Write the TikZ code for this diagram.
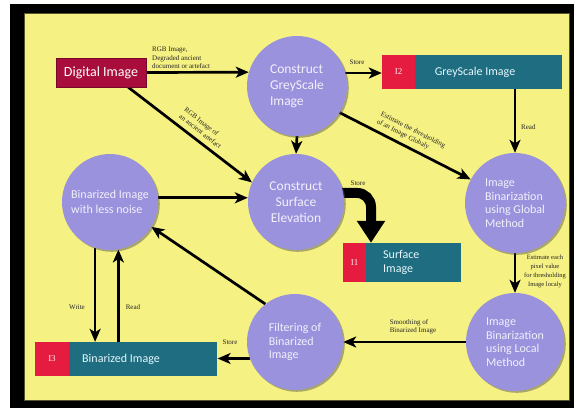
\documentclass[tikz,border=0pt]{standalone}
\usepackage{fontspec}
\setmainfont{Liberation Serif}
\newfontfamily\cfont{Carlito}
\usetikzlibrary{arrows.meta,shadows,calc}
\pgfdeclarelayer{back}
\pgfdeclarelayer{arrowlayer}
\pgfsetlayers{back,arrowlayer,main}
\definecolor{bgyellow}{HTML}{F5F182}
\definecolor{circfill}{HTML}{9A92DC}
\definecolor{darkred}{HTML}{A80D3C}
\definecolor{tagred}{HTML}{E51C40}
\definecolor{tealc}{HTML}{1F6D80}
\definecolor{circtext}{HTML}{F2F0FC}
\begin{document}
\begin{tikzpicture}[x=1pt,y=-1pt,
  proc/.style={circle, fill=circfill, inner sep=0pt, text=circtext, align=left,
    font=\cfont\fontsize{12}{13.5}\selectfont,
    drop shadow={shadow xshift=1.8pt, shadow yshift=-1.8pt, fill=black!70, opacity=0.45}},
  bigproc/.style={proc, font=\cfont\fontsize{13.5}{16}\selectfont},
  tagbox/.style={rectangle, fill=tagred, inner sep=0pt, minimum height=34pt, text=red!8, font=\fontsize{9}{10}\selectfont},
  tealbox/.style={rectangle, fill=tealc, inner sep=0pt, minimum height=34pt},
  boxtext/.style={text=white!90!cyan, font=\cfont\fontsize{12}{14}\selectfont, align=left, inner sep=0pt},
  lbl/.style={font=\fontsize{7}{8.5}\selectfont, text=black!85, inner sep=1pt},
  arr/.style={line width=2.7pt, -{Stealth[length=13pt,width=11pt,inset=3.5pt]}},
]
\useasboundingbox (0,0) rectangle (574,408);
\begin{pgfonlayer}{back}
  \fill[white] (0,0) rectangle (574,408);
  \fill[black] (10,4) rectangle (574,408);
  \filldraw[fill=bgyellow, draw=olive!50!black, line width=0.5pt] (24,13) rectangle (569,400);
\end{pgfonlayer}

% boxes
\node[rectangle, fill=darkred, draw=darkred!70!black, line width=0.6pt, minimum width=90pt, minimum height=29pt, inner sep=0pt, text=white, font=\cfont\fontsize{14}{16}\selectfont] (di) at (101,72.5) {Digital Image};

\node[tagbox, minimum width=33pt] (i2tag) at (398.5,72) {I2};
\node[tealbox, minimum width=147pt, anchor=west] (i2box) at (i2tag.east) {};
\node[boxtext] (i2txt) at (475,72) {GreyScale Image};

\node[tagbox, minimum width=23pt, minimum height=39pt] (i1tag) at (354.5,262.5) {I1};
\node[tealbox, minimum width=95pt, minimum height=39pt, anchor=west] (i1box) at (i1tag.east) {};
\node[boxtext, anchor=west] (i1txt) at (383,262.5) {Surface\\Image};

\node[tagbox, minimum width=34pt] (i3tag) at (52,359) {I3};
\node[tealbox, minimum width=148pt, anchor=west] (i3box) at (i3tag.east) {};
\node[boxtext, anchor=west] (i3txt) at (82,359) {Binarized Image};

% circles
\node[bigproc, minimum size=100pt] (gs) at (297,86) {Construct\\GreyScale\\Image};
\node[bigproc, minimum size=96pt, align=center] (se) at (296,202) {Construct\\Surface\\Elevation};
\node[proc, minimum size=96pt, font=\cfont\fontsize{12}{15}\selectfont] (bin) at (110,202) {Binarized Image\\with less noise};
\node[proc, minimum size=100pt] (glob) at (515,203) {Image\\Binarization\\using Global\\Method};
\node[proc, minimum size=98pt] (loc) at (515,342) {Image\\Binarization\\using Local\\Method};
\node[proc, minimum size=96pt] (filt) at (295,342) {Filtering of\\Binarized\\Image};

% connectors
\begin{pgfonlayer}{arrowlayer}
  \draw[arr] (di.east) -- (gs.164);
  \draw[arr] (gs.15) -- (gs.15 -| i2tag.west);
  \draw[arr] (glob.north |- i2box.south) -- (glob.north);
  \coordinate (dstart) at ($(di.south east)+(-18,0)$);
  \draw[arr] (dstart) -- (se.156);
  \draw[arr] (gs.south) -- (se.north);
  \draw[arr] (gs.-32) -- (glob.152);
  \draw[arr] (bin.5) -- (bin.5 -| se.west);
  \coordinate (sbend) at (371,193);
  \draw[line width=10pt, rounded corners=14pt, -{Triangle[length=22pt,width=27pt]}] ($(se.11)+(-4,0)$) -- (sbend) -- (sbend |- i1box.north);
  \draw[arr] (glob.south) -- (loc.north);
  \draw[arr] (loc.west) -- (filt.east);
  \draw[arr] (filt.-160.5) -- (filt.-160.5 -| i3box.east);
  \draw[arr] (filt.128.7) -- (bin.-31);
  \draw[arr] (bin.-108) -- (bin.-108 |- i3box.north);
  \draw[arr] (bin.-80 |- i3box.north) -- (bin.-80);
\end{pgfonlayer}

% labels
\node[lbl, anchor=south west, align=left] (l1) at (151,70) {RGB Image,\\Degraded ancient\\document or artefact};
\node[lbl, align=left, rotate=-37.9] (l2) at (203,128) {RGB Image of\\an ancient artefact};
\node[lbl, align=left, rotate=-27] (l3) at (411,134) {Estimate the thresholding\\of an Image Globaly};
\node[lbl] (st1) at (357,62) {Store};
\node[lbl, anchor=west] (rd1) at (520,127) {Read};
\node[lbl] (st2) at (358,183) {Store};
\node[lbl, align=center, font=\fontsize{6.5}{9}\selectfont] (l4) at (545,271) {Estimate each\\pixel value\\for thresholding\\Image localy};
\node[lbl, align=left] (l5) at (413,327) {Smoothing of\\Binarized Image};
\node[lbl] (st3) at (230,342) {Store};
\node[lbl] (wr) at (77,307) {Write};
\node[lbl] (rd2) at (133,307) {Read};
\end{tikzpicture}
\end{document}
